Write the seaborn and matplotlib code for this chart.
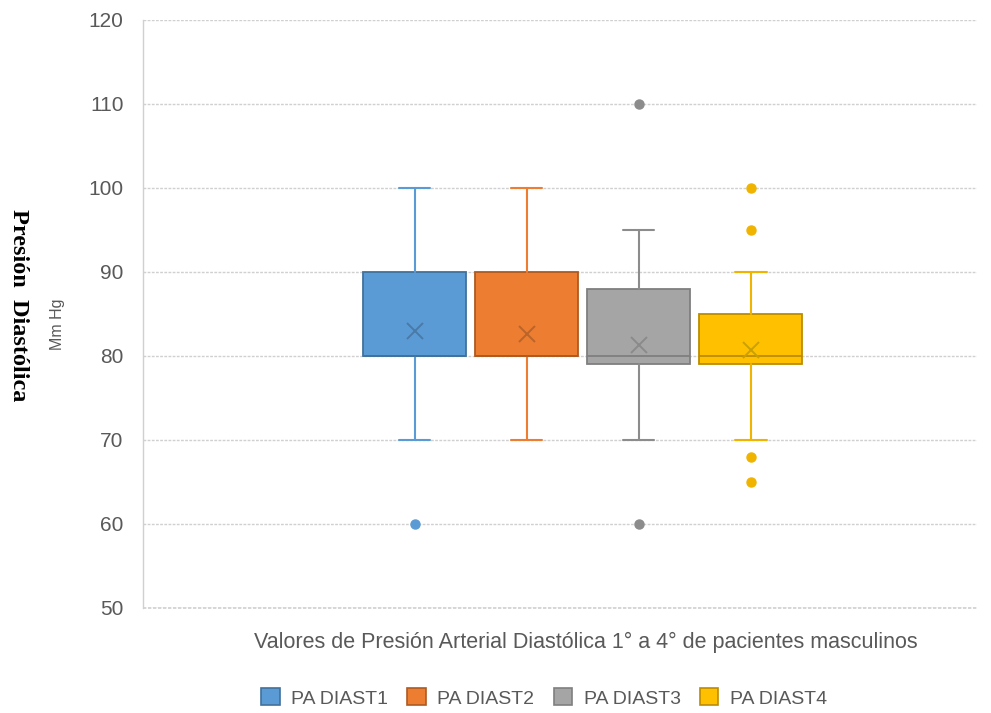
import matplotlib
matplotlib.use("Agg")
import matplotlib.pyplot as plt
from matplotlib.patches import Patch
import seaborn as sns

# Summary statistics per reading (mm Hg)
series = ["PA DIAST1", "PA DIAST2", "PA DIAST3", "PA DIAST4"]
q1 = [80, 80, 79, 79]
median = [80, 80, 80, 80]
q3 = [90, 90, 88, 85]
whisker_low = [70, 70, 70, 70]
whisker_high = [100, 100, 95, 90]
mean = [83.0, 82.6, 81.3, 80.7]
outliers = [[60], [], [110, 60], [100, 95, 68, 65]]

fills = ["#5B9BD5", "#ED7D31", "#A5A5A5", "#FFC000"]
edges = ["#41719C", "#AE5A21", "#7F7F7F", "#BC8C00"]
lines = ["#5B9BD5", "#ED7D31", "#8C8C8C", "#F0B400"]
mean_colors = ["#4A7AA8", "#B9652A", "#8A8A8A", "#C9A000"]

yticks = [50, 60, 70, 80, 90, 100, 110, 120]

sns.set_theme(style="white")
plt.rcParams["font.family"] = ["Liberation Sans", "DejaVu Sans"]

fig = plt.figure(figsize=(9.91, 7.13), dpi=100)
ax = fig.add_axes([0.1443, 0.1473, 0.842, 0.825])

positions = [0, 1, 2, 3]
stats = []
for i, name in enumerate(series):
    stats.append(dict(label=name, q1=q1[i], med=median[i], q3=q3[i],
                      whislo=whisker_low[i], whishi=whisker_high[i],
                      mean=mean[i], fliers=outliers[i]))

art = ax.bxp(stats, positions=positions, widths=0.92, patch_artist=True,
             showmeans=True, showfliers=True, capwidths=0.28, zorder=3)

for i in range(len(series)):
    box = art["boxes"][i]
    box.set_facecolor(fills[i])
    box.set_edgecolor(edges[i])
    box.set_linewidth(1.3)
    art["medians"][i].set_color(edges[i])
    art["medians"][i].set_linewidth(1.3)
    for w in art["whiskers"][2 * i:2 * i + 2]:
        w.set_color(lines[i])
        w.set_linewidth(1.5)
    for c in art["caps"][2 * i:2 * i + 2]:
        c.set_color(lines[i])
        c.set_linewidth(1.5)
    m = art["means"][i]
    m.set_marker("x")
    m.set_markersize(12)
    m.set_markeredgewidth(1.4)
    m.set_markeredgecolor(mean_colors[i])
    m.set_zorder(5)
    f = art["fliers"][i]
    f.set_marker("o")
    f.set_markersize(6.5)
    f.set_markerfacecolor(lines[i])
    f.set_markeredgecolor(lines[i])
    f.set_zorder(5)

ax.set_xlim(-2.424, 5.022)
ax.set_ylim(50, 120)
ax.set_yticks(yticks)
ax.set_yticklabels([str(t) for t in yticks], color="#595959", fontsize=15)
ax.set_xticks([])
ax.tick_params(axis="y", length=0, pad=14)

ax.yaxis.grid(True, color="#D0D0D0", linewidth=1.0, linestyle=(0, (2, 1)), zorder=0)
ax.set_axisbelow(True)
for s in ["top", "right", "bottom"]:
    ax.spines[s].set_visible(False)
ax.spines["left"].set_color("#D0D0D0")
ax.spines["left"].set_linestyle((0, (2, 1)))
ax.spines["left"].set_linewidth(1.0)
ax.axhline(50, color="#D0D0D0", linewidth=1.2, linestyle=(0, (2, 1)), zorder=1, clip_on=False)

ax.set_xlabel("Valores de Presión Arterial Diastólica 1° a 4° de pacientes masculinos",
              color="#595959", fontsize=15.5)
ax.xaxis.set_label_coords(0.531, -0.040)

fig.text(0.0585, 0.545, "Mm Hg", rotation=90, ha="center", va="center",
         color="#595959", fontsize=11.5)
fig.text(0.019, 0.572, "Presión  Diastólica", rotation=-90, ha="center", va="center",
         fontsize=17.5, fontweight="bold", family=["Liberation Serif", "DejaVu Serif"],
         color="black")

handles = [Patch(facecolor=fills[i], edgecolor=edges[i], linewidth=1.2, label=series[i])
           for i in range(len(series))]
fig.legend(handles=handles, loc="center", bbox_to_anchor=(0.549, 0.021), ncol=4,
           frameon=False, fontsize=14, handlelength=0.95, handleheight=0.95,
           handletextpad=0.6, columnspacing=0.98, labelcolor="#595959")

fig.savefig("out.png", dpi=100, facecolor="white")
